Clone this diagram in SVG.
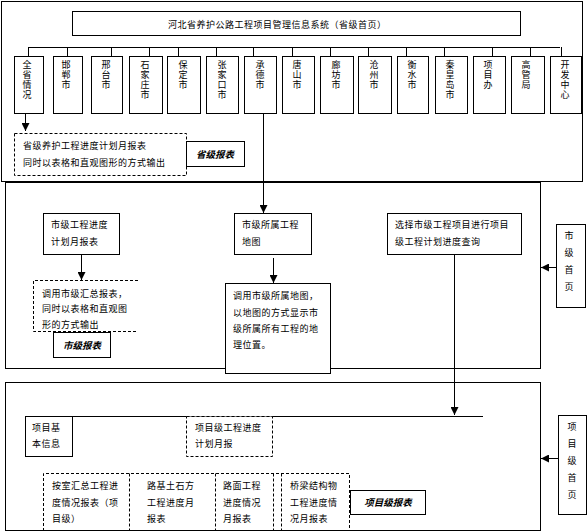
<svg xmlns="http://www.w3.org/2000/svg" width="587" height="532" viewBox="0 0 587 532">
<defs>
<style>
.frame{fill:none;stroke:#000;stroke-width:1}
.box{fill:#fff;stroke:#000;stroke-width:1}
.dash{fill:#fff;stroke:#000;stroke-width:1;stroke-dasharray:3 2}
.dl{fill:none;stroke:#000;stroke-width:1;stroke-dasharray:3 2}
.ln{fill:none;stroke:#000;stroke-width:1}
.t{font-family:"Noto Sans CJK SC","Noto Sans CJK JP",sans-serif;font-size:9px;letter-spacing:0.5px;fill:#000}
.v{writing-mode:vertical-rl;letter-spacing:1px}
.v2{writing-mode:vertical-rl;letter-spacing:8px}
.b{font-weight:bold;font-style:italic;font-size:9.5px;text-anchor:middle;letter-spacing:0}
</style>
<marker id="ah" markerWidth="8" markerHeight="8" refX="8" refY="4" orient="auto" markerUnits="userSpaceOnUse"><path d="M0,0 L8,4 L0,8 z" fill="#000"/></marker>
</defs>
<rect width="587" height="532" fill="#fff"/>
<g id="frames">
<rect class="frame" x="1.5" y="1.5" width="581" height="180"/>
<rect class="frame" x="5.5" y="182.5" width="535" height="186"/>
<rect class="frame" x="5.5" y="382.5" width="535" height="148"/>
</g>
<g id="connectors">
<path class="ln" d="M28.5,47.5 H560"/>
<path class="ln" d="M28.5,47 V56 M67.5,47 V56 M111.5,47 V56 M149.5,47 V56 M178.5,47 V56 M216.5,47 V56 M253.5,47 V56 M292.5,47 V56 M330.5,47 V56 M368.5,47 V56 M406.5,47 V56 M444.5,47 V56 M492.5,47 V56 M530.5,47 V56 M561.5,47 V56"/>
<path class="ln" d="M25.5,114 V131" marker-end="url(#ah)"/>
<path class="ln" d="M263.5,114 V213" marker-end="url(#ah)"/>
<path class="ln" d="M81.5,254 V280" marker-end="url(#ah)"/>
<path class="ln" d="M273.5,258 V283" marker-end="url(#ah)"/>
<path class="ln" d="M454.5,254 V415" marker-end="url(#ah)"/>
<path class="ln" d="M72,416.5 H483"/>
<path class="ln" d="M556,267.5 H541" marker-end="url(#ah)"/>
<path class="ln" d="M558,458.5 H541" marker-end="url(#ah)"/>
</g>
<g id="title">
<rect class="box" x="72.5" y="11.5" width="448" height="24"/>
<text class="t" x="168" y="28">河北省养护公路工程项目管理信息系统（省级首页）</text>
</g>
<g id="n1"><rect class="box" x="14.5" y="56.5" width="29" height="57"/><text class="t v" x="27" y="60.5">全省情况</text></g>
<g id="n2"><rect class="box" x="53.5" y="56.5" width="29" height="57"/><text class="t v" x="66" y="60.5">邯郸市</text></g>
<g id="n3"><rect class="box" x="91.5" y="56.5" width="31" height="57"/><text class="t v" x="106" y="60.5">邢台市</text></g>
<g id="n4"><rect class="box" x="129.5" y="56.5" width="33" height="57"/><text class="t v" x="145" y="60.5">石家庄市</text></g>
<g id="n5"><rect class="box" x="167.5" y="56.5" width="33" height="57"/><text class="t v" x="183" y="60.5">保定市</text></g>
<g id="n6"><rect class="box" x="206.5" y="56.5" width="32" height="57"/><text class="t v" x="222" y="60.5">张家口市</text></g>
<g id="n7"><rect class="box" x="244.5" y="56.5" width="32" height="57"/><text class="t v" x="260" y="60.5">承德市</text></g>
<g id="n8"><rect class="box" x="282.5" y="56.5" width="32" height="57"/><text class="t v" x="297" y="60.5">唐山市</text></g>
<g id="n9"><rect class="box" x="320.5" y="56.5" width="33" height="57"/><text class="t v" x="336" y="60.5">廊坊市</text></g>
<g id="n10"><rect class="box" x="358.5" y="56.5" width="33" height="57"/><text class="t v" x="374" y="60.5">沧州市</text></g>
<g id="n11"><rect class="box" x="397.5" y="56.5" width="31" height="57"/><text class="t v" x="412" y="60.5">衡水市</text></g>
<g id="n12"><rect class="box" x="435.5" y="56.5" width="32" height="57"/><text class="t v" x="450" y="60.5">秦皇岛市</text></g>
<g id="n13"><rect class="box" x="473.5" y="56.5" width="32" height="57"/><text class="t v" x="488" y="60.5">项目办</text></g>
<g id="n14"><rect class="box" x="511.5" y="56.5" width="33" height="57"/><text class="t v" x="526" y="60.5">高管局</text></g>
<g id="n15"><rect class="box" x="550.5" y="56.5" width="31" height="57"/><text class="t v" x="565" y="60.5">开发中心</text></g>
<g id="prov-report">
<rect class="dash" x="14.5" y="133.5" width="172" height="42"/>
<text class="t" x="23" y="148.5">省级养护工程进度计划月报表</text>
<text class="t" x="23" y="165.5">同时以表格和直观图形的方式输出</text>
</g>
<g id="prov-label">
<rect class="box" x="186.5" y="141.5" width="58" height="25"/>
<text class="t b" x="215" y="157.5">省级报表</text>
</g>
<g id="city-plan">
<rect class="box" x="43.5" y="213.5" width="76" height="41"/>
<text class="t" x="51" y="227.5">市级工程进度</text>
<text class="t" x="51" y="244.5">计划月报表</text>
</g>
<g id="city-map">
<rect class="box" x="234.5" y="213.5" width="77" height="41"/>
<text class="t" x="242" y="227.5">市级所属工程</text>
<text class="t" x="242" y="244.5">地图</text>
</g>
<g id="city-select">
<rect class="box" x="387.5" y="213.5" width="134" height="41"/>
<text class="t" x="395" y="227.5">选择市级工程项目进行项目</text>
<text class="t" x="395" y="244.5">级工程计划进度查询</text>
</g>
<g id="city-summary">
<path class="dl" d="M138,280.5 H33.5 V331.5 H138"/>
<text class="t" x="42" y="296.5">调用市级汇总报表，</text>
<text class="t" x="42" y="311.5">同时以表格和直观图</text>
<text class="t" x="42" y="327.5">形的方式输出</text>
</g>
<g id="city-label">
<rect class="box" x="53.5" y="332.5" width="57" height="25"/>
<text class="t b" x="82" y="348.5">市级报表</text>
</g>
<g id="city-map-detail">
<rect class="box" x="225.5" y="283.5" width="105" height="90"/>
<text class="t" x="233" y="298.5">调用市级所属地图，</text>
<text class="t" x="233" y="315.5">以地图的方式显示市</text>
<text class="t" x="233" y="331.5">级所属所有工程的地</text>
<text class="t" x="233" y="347.5">理位置。</text>
</g>
<g id="city-home">
<rect class="box" x="556.5" y="224.5" width="29" height="83"/>
<text class="t v2" x="569" y="231.5">市级首页</text>
</g>
<g id="proj-basic">
<rect class="box" x="25.5" y="416.5" width="47" height="40"/>
<text class="t" x="32" y="430.5">项目基</text>
<text class="t" x="32" y="446.5">本信息</text>
</g>
<g id="proj-plan">
<rect class="dash" x="186.5" y="416.5" width="86" height="40"/>
<text class="t" x="195" y="430.5">项目级工程进度</text>
<text class="t" x="195" y="446.5">计划月报</text>
</g>
<g id="proj-reports">
<path class="dl" d="M43.5,531 V473.5 H349.5 V531 M129.5,473.5 V531 M215.5,473.5 V531 M273.5,473.5 V531 M281.5,473.5 V531"/>
<text class="t" x="52" y="488.5">按室汇总工程进</text>
<text class="t" x="52" y="505.5">度情况报表（项</text>
<text class="t" x="52" y="521.5">目级）</text>
<text class="t" x="147" y="488.5">路基土石方</text>
<text class="t" x="147" y="505.5">工程进度月</text>
<text class="t" x="147" y="521.5">报表</text>
<text class="t" x="223" y="488.5">路面工程</text>
<text class="t" x="223" y="505.5">进度情况</text>
<text class="t" x="223" y="521.5">月报表</text>
<text class="t" x="290" y="488.5">桥梁结构物</text>
<text class="t" x="290" y="505.5">工程进度情</text>
<text class="t" x="290" y="521.5">况月报表</text>
</g>
<g id="proj-label">
<rect class="box" x="350.5" y="490.5" width="75" height="24"/>
<text class="t b" x="388" y="506">项目级报表</text>
</g>
<g id="proj-home">
<rect class="box" x="558.5" y="415.5" width="28" height="99"/>
<text class="t v2" x="572" y="422.5">项目级首页</text>
</g>
</svg>
